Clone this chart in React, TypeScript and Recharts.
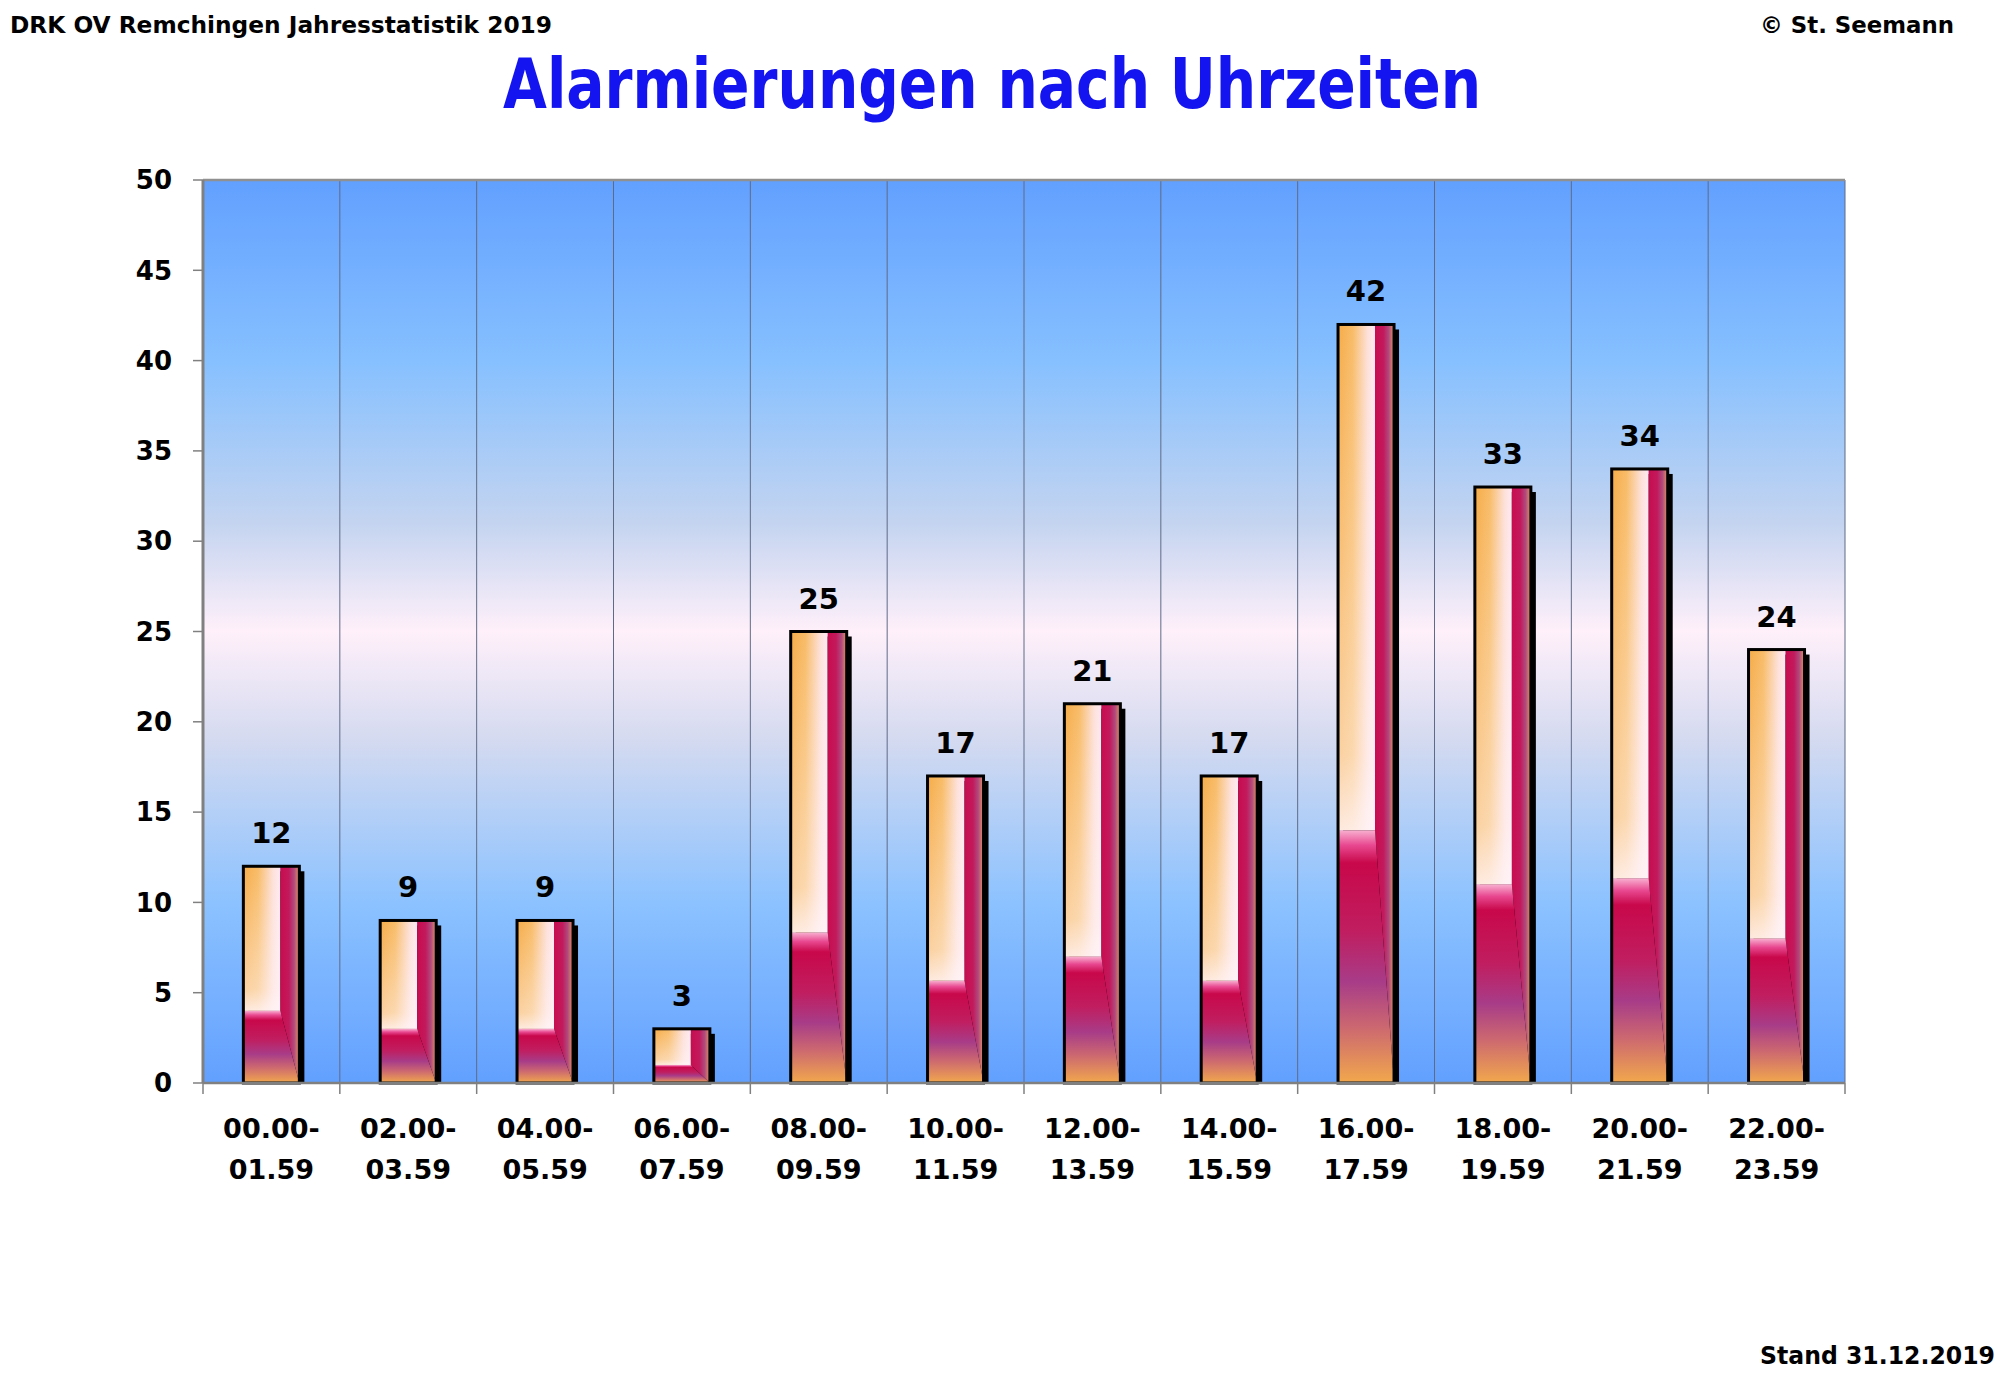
import { Bar, BarChart, CartesianGrid, LabelList, ReferenceLine, XAxis, YAxis } from 'recharts'

const slots = [
  '00.00-01.59',
  '02.00-03.59',
  '04.00-05.59',
  '06.00-07.59',
  '08.00-09.59',
  '10.00-11.59',
  '12.00-13.59',
  '14.00-15.59',
  '16.00-17.59',
  '18.00-19.59',
  '20.00-21.59',
  '22.00-23.59',
]
const alarms = [12, 9, 9, 3, 25, 17, 21, 17, 42, 33, 34, 24]
const yTicks = [0, 5, 10, 15, 20, 25, 30, 35, 40, 45, 50]

const rows = slots.map((slot, i) => ({ slot, count: alarms[i] }))

const font = '"Comic Sans MS", "DejaVu Sans", sans-serif'
const axisGrey = '#808080'

function FancyBar(props: any) {
  const { x, y, width: w, height: h } = props
  if (!h || h <= 0) return null
  const sx = x + w * 0.66
  const sy = y + (h * 2) / 3
  return (
    <g>
      <rect x={x + 5} y={y + 5} width={w} height={h - 5} fill="#000" />
      <rect x={x} y={y} width={sx - x} height={sy - y} fill="url(#innerH)" />
      <rect x={x} y={y} width={sx - x} height={sy - y} fill="url(#innerV)" />
      <polygon
        points={`${sx},${y} ${x + w},${y} ${x + w},${y + h} ${sx},${sy}`}
        fill="url(#rightStrip)"
      />
      <polygon
        points={`${x},${sy} ${sx},${sy} ${x + w},${y + h} ${x},${y + h}`}
        fill="url(#bottomStrip)"
      />
      <rect x={x} y={y} width={w} height={h} fill="none" stroke="#000" strokeWidth={3} />
    </g>
  )
}

function SlotTick(props: any) {
  const { x, y, payload, index, width, visibleTicksCount } = props
  const half = payload?.offset || width / visibleTicksCount / 2
  const [from, to] = String(payload.value).split('-')
  const last = index === slots.length - 1
  const txt = { fontFamily: font, fontSize: 27, fontWeight: 700, fill: '#000', textAnchor: 'middle' as const }
  return (
    <g>
      <line x1={x - half} x2={x - half} y1={y} y2={y + 11} stroke={axisGrey} strokeWidth={1.5} />
      {last && <line x1={x + half} x2={x + half} y1={y} y2={y + 11} stroke={axisGrey} strokeWidth={1.5} />}
      <text x={x} y={y + 55} {...txt}>
        {from}-
      </text>
      <text x={x} y={y + 96} {...txt}>
        {to}
      </text>
    </g>
  )
}

export default function App() {
  return (
    <div style={{ position: 'absolute', left: 0, top: 0, width: 2000, height: 1385, background: '#fff' }}>
      <svg width={0} height={0} style={{ position: 'absolute' }}>
        <defs>
          <linearGradient id="plotBg" x1="0" y1="0" x2="0" y2="1">
            <stop offset="0%" stopColor="#62a0ff" />
            <stop offset="20%" stopColor="#86c0ff" />
            <stop offset="38%" stopColor="#c4d4f0" />
            <stop offset="50%" stopColor="#fff0fa" />
            <stop offset="62%" stopColor="#d4daf0" />
            <stop offset="80%" stopColor="#8cc2ff" />
            <stop offset="100%" stopColor="#62a0ff" />
          </linearGradient>
          <linearGradient id="innerH" x1="0" y1="0" x2="1" y2="0">
            <stop offset="0%" stopColor="#f6ac48" />
            <stop offset="40%" stopColor="#f8bc68" />
            <stop offset="80%" stopColor="#fde0d8" />
            <stop offset="100%" stopColor="#ffeaf2" />
          </linearGradient>
          <linearGradient id="innerV" x1="0" y1="0" x2="0" y2="1">
            <stop offset="0%" stopColor="#fff4f6" stopOpacity={0} />
            <stop offset="85%" stopColor="#fff4f6" stopOpacity={0.5} />
            <stop offset="100%" stopColor="#fff4f8" stopOpacity={0.85} />
          </linearGradient>
          <linearGradient id="rightStrip" x1="0" y1="0" x2="1" y2="0">
            <stop offset="0%" stopColor="#c80c50" />
            <stop offset="45%" stopColor="#c21a5c" />
            <stop offset="72%" stopColor="#b04a7e" />
            <stop offset="100%" stopColor="#e6945e" />
          </linearGradient>
          <linearGradient id="bottomStrip" x1="0" y1="0" x2="0" y2="1">
            <stop offset="0%" stopColor="#f8b0d0" />
            <stop offset="6%" stopColor="#e84890" />
            <stop offset="13%" stopColor="#c8084a" />
            <stop offset="40%" stopColor="#c01e60" />
            <stop offset="60%" stopColor="#a83c88" />
            <stop offset="78%" stopColor="#cc6870" />
            <stop offset="100%" stopColor="#f2a84c" />
          </linearGradient>
        </defs>
      </svg>
      <BarChart
        width={2000}
        height={1385}
        data={rows}
        margin={{ top: 180, right: 155, bottom: 202, left: 0 }}
        barCategoryGap="29.5%"
      >
        <CartesianGrid
          fill="url(#plotBg)"
          fillOpacity={1}
          stroke="#5f6b86"
          strokeWidth={1}
          horizontal={false}
          verticalCoordinatesGenerator={({ offset }: any) =>
            slots.map((_, i) => offset.left + (offset.width * i) / slots.length).concat(offset.left + offset.width)
          }
        />
        <ReferenceLine y={50} stroke="#909090" strokeWidth={2.5} />
        <XAxis
          dataKey="slot"
          interval={0}
          height={100}
          tickSize={0}
          tickMargin={0}
          tickLine={false}
          tick={<SlotTick />}
          axisLine={{ stroke: axisGrey, strokeWidth: 2.5 }}
        />
        <YAxis
          domain={[0, 50]}
          ticks={yTicks}
          interval={0}
          width={203}
          tickSize={10}
          tickMargin={21}
          tick={{ fontFamily: font, fontSize: 26, fontWeight: 700, fill: '#000' }}
          tickLine={{ stroke: axisGrey, strokeWidth: 1.5 }}
          axisLine={{ stroke: axisGrey, strokeWidth: 3 }}
        />
        <Bar dataKey="count" shape={<FancyBar />} isAnimationActive={false}>
          <LabelList
            dataKey="count"
            position="top"
            offset={23}
            style={{ fontFamily: font, fontSize: 29, fontWeight: 700, fill: '#000' }}
          />
        </Bar>
      </BarChart>
      <svg
        width={2000}
        height={1385}
        style={{ position: 'absolute', left: 0, top: 0, pointerEvents: 'none' }}
      >
        <g fontFamily={font} fontWeight={700} fill="#000">
          <text x={10} y={33} fontSize={23} textLength={542} lengthAdjust="spacingAndGlyphs">
            DRK OV Remchingen Jahresstatistik 2019
          </text>
          <text x={1760} y={33} fontSize={23} textLength={194} lengthAdjust="spacingAndGlyphs">
            © St. Seemann
          </text>
          <text x={1760} y={1364} fontSize={24} textLength={235} lengthAdjust="spacingAndGlyphs">
            Stand 31.12.2019
          </text>
          <text
            x={503}
            y={108}
            fontSize={70}
            fill="#1414f0"
            textLength={978}
            lengthAdjust="spacingAndGlyphs"
          >
            Alarmierungen nach Uhrzeiten
          </text>
        </g>
      </svg>
    </div>
  )
}
